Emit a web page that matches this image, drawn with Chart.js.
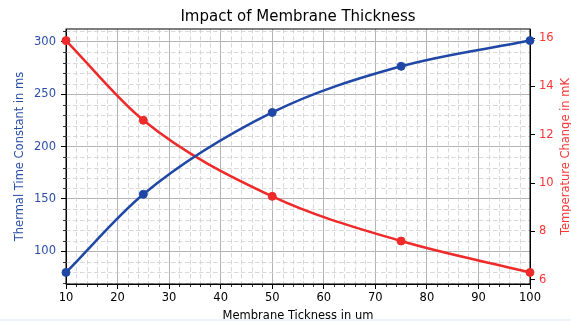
<!DOCTYPE html>
<html><head><meta charset="utf-8">
<script src="https://cdn.jsdelivr.net/npm/chart.js@4/dist/chart.umd.min.js"></script>
<style>
html,body{margin:0;padding:0;background:#fff;}
#wrap{position:relative;width:571px;height:321px;}
#band{position:absolute;left:0;top:319px;width:571px;height:2px;background:#eef3fa;}
</style></head><body>
<div id="wrap"><canvas id="c" width="571" height="321"></canvas><div id="band"></div></div>
<script>
const thickness = [10, 25, 50, 75, 100];
const timeConstant = [80, 154.5, 232.5, 276.5, 301];
const tempChange = [15.9, 12.6, 9.45, 7.6, 6.3];
const xTicks = [10, 20, 30, 40, 50, 60, 70, 80, 90, 100];
const leftTicks = [100, 150, 200, 250, 300];
const rightTicks = [6, 8, 10, 12, 14, 16];
const titleText = 'Impact of Membrane Thickness';
const xTitle = 'Membrane Tickness in um';
const leftTitle = 'Thermal Time Constant in ms';
const rightTitle = 'Temperature Change in mK';

const FONT = '"DejaVu Sans", sans-serif';
const BLUE = '#1f48a6';
const RED = '#ee2a2a';
const BLUE_T = '#2b4fa8';
const RED_T = '#fb3535';

const minorPlugin = {
  id: 'minor',
  beforeDatasetsDraw(chart) {
    const {ctx, chartArea: a, scales: {x, y}} = chart;
    ctx.save();
    ctx.strokeStyle = '#cfcfcf';
    ctx.lineWidth = 0.8;
    ctx.setLineDash([4.5, 2.5]);
    for (let v = x.min + 2; v < x.max; v += 2) {
      if (Math.abs(v % 10) < 1e-6) continue;
      const px = Math.round(x.getPixelForValue(v)) + 0.5;
      ctx.beginPath(); ctx.moveTo(px, a.top); ctx.lineTo(px, a.bottom); ctx.stroke();
    }
    for (let v = 70; v < y.max; v += 10) {
      if (v % 50 === 0) continue;
      const py = Math.round(y.getPixelForValue(v)) + 0.5;
      ctx.beginPath(); ctx.moveTo(a.left, py); ctx.lineTo(a.right, py); ctx.stroke();
    }
    ctx.setLineDash([]);
    ctx.strokeStyle = '#000';
    ctx.lineWidth = 0.8;
    for (let v = x.min + 2; v < x.max; v += 2) {
      if (Math.abs(v % 10) < 1e-6) continue;
      const px = Math.round(x.getPixelForValue(v)) + 0.5;
      ctx.beginPath(); ctx.moveTo(px, a.bottom); ctx.lineTo(px, a.bottom + 3); ctx.stroke();
    }
    for (let v = 70; v < y.max; v += 10) {
      if (v % 50 === 0) continue;
      const py = Math.round(y.getPixelForValue(v)) + 0.5;
      ctx.beginPath(); ctx.moveTo(a.left, py); ctx.lineTo(a.left - 3, py); ctx.stroke();
    }
    ctx.lineWidth = 1;
    ctx.strokeRect(a.left, a.top, a.right - a.left, a.bottom - a.top);
    ctx.restore();
  },
  afterDraw(chart) {
    const {ctx, chartArea: a} = chart;
    ctx.save();
    ctx.textAlign = 'center';
    ctx.textBaseline = 'alphabetic';
    ctx.fillStyle = '#000';
    ctx.font = '15px ' + FONT;
    ctx.fillText(titleText, (a.left + a.right) / 2, 21);
    ctx.font = '11.5px ' + FONT;
    ctx.fillText(xTitle, (a.left + a.right) / 2, 318.5);
    const cy = (a.top + a.bottom) / 2;
    ctx.save();
    ctx.translate(22.5, cy); ctx.rotate(-Math.PI / 2);
    ctx.fillStyle = BLUE_T; ctx.fillText(leftTitle, 0, 0);
    ctx.restore();
    ctx.save();
    ctx.translate(568.5, cy); ctx.rotate(-Math.PI / 2);
    ctx.fillStyle = RED_T; ctx.fillText(rightTitle, 0, 0);
    ctx.restore();
    ctx.restore();
  }
};

const grid = {color: '#b4b4b4', lineWidth: 1, tickColor: '#000', tickLength: 5, tickWidth: 1};

new Chart(document.getElementById('c'), {
  type: 'line',
  data: {
    datasets: [
      {
        data: thickness.map((t, i) => ({x: t, y: timeConstant[i]})),
        yAxisID: 'y', borderColor: BLUE, backgroundColor: BLUE,
        borderWidth: 2.5, pointRadius: 4, pointBorderWidth: 1, pointHoverRadius: 4,
        cubicInterpolationMode: 'monotone', clip: false, fill: false
      },
      {
        data: thickness.map((t, i) => ({x: t, y: tempChange[i]})),
        yAxisID: 'y2', borderColor: RED, backgroundColor: RED,
        borderWidth: 2.5, pointRadius: 4, pointBorderWidth: 1, pointHoverRadius: 4,
        cubicInterpolationMode: 'monotone', clip: false, fill: false
      }
    ]
  },
  options: {
    responsive: false, animation: false, devicePixelRatio: 1,
    layout: {padding: {top: 29, left: 0, right: 0, bottom: 0}},
    plugins: {legend: {display: false}, tooltip: {enabled: false}, title: {display: false}},
    scales: {
      x: {
        type: 'linear', min: 10, max: 100,
        afterBuildTicks: s => { s.ticks = xTicks.map(v => ({value: v})); },
        afterFit: s => { s.height = 37; },
        ticks: {color: '#000', font: {size: 11.5, family: FONT}, padding: 2, maxRotation: 0, autoSkip: false},
        grid: grid,
        border: {display: true, color: '#000', width: 1}
      },
      y: {
        position: 'left', min: 68.95, max: 312.05,
        afterBuildTicks: s => { s.ticks = leftTicks.map(v => ({value: v})); },
        afterFit: s => { s.width = 66; },
        ticks: {color: BLUE_T, font: {size: 11.5, family: FONT}, padding: 5, autoSkip: false},
        grid: grid,
        border: {display: true, color: '#000', width: 1}
      },
      y2: {
        position: 'right', min: 5.82, max: 16.38,
        afterBuildTicks: s => { s.ticks = rightTicks.map(v => ({value: v})); },
        afterFit: s => { s.width = 41; },
        ticks: {color: RED_T, font: {size: 11.5, family: FONT}, padding: 4, autoSkip: false},
        grid: {drawOnChartArea: false, tickColor: '#000', tickLength: 5, tickWidth: 1},
        border: {display: true, color: '#000', width: 1}
      }
    }
  },
  plugins: [minorPlugin]
});
</script>
</body></html>
